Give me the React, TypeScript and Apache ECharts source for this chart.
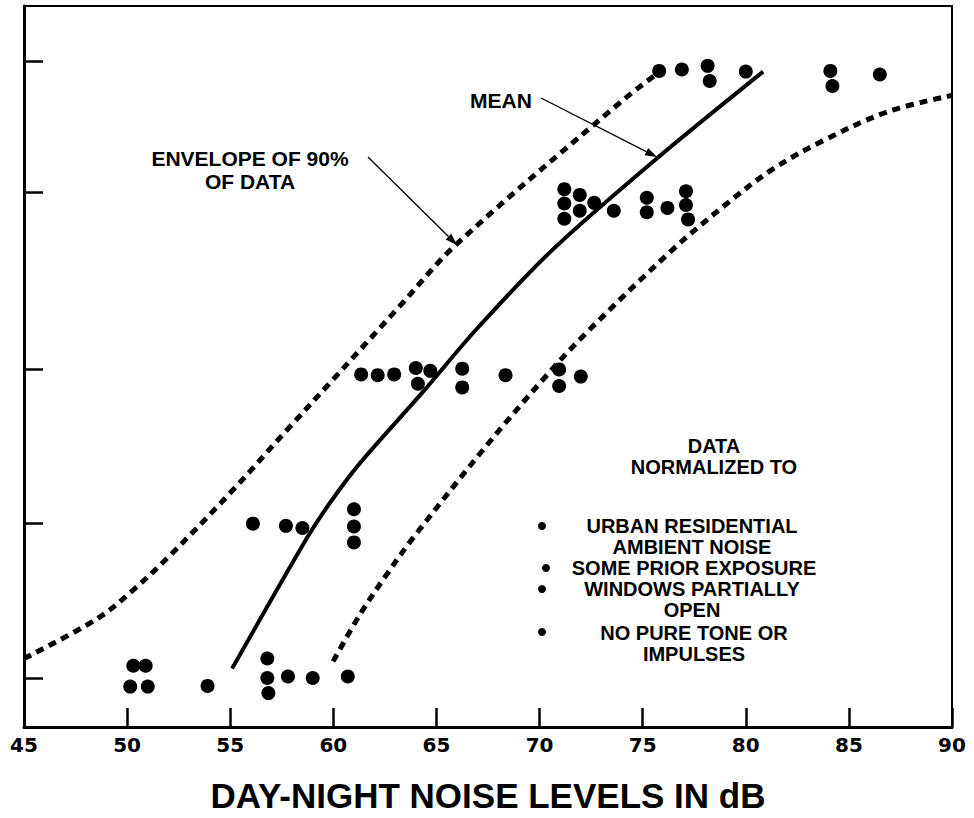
import React, { useEffect, useRef } from "react";
import * as echarts from "echarts";

// ---- Axis settings ----
const X_MIN = 45;
const X_MAX = 90;
const X_STEP = 5;
const Y_MIN = 0;
const Y_MAX = 100;
// positions of the (unlabelled) reaction-level ticks on the vertical scale
const yTickValues = [6.75, 28.2, 49.6, 74.1, 92.4];

// ---- Observed data points [dB, reaction score] ----
const level1Points = [
  [50.3, 8.5], [50.9, 8.5], [50.15, 5.6], [51.0, 5.6], [53.9, 5.7],
  [56.8, 9.5], [56.8, 6.8], [56.85, 4.7], [57.8, 7.0], [59.0, 6.8], [60.7, 7.0],
];
const level2Points = [
  [56.1, 28.2], [57.7, 27.9], [58.5, 27.6], [61.0, 30.2], [61.0, 27.8], [61.0, 25.6],
];
const level3Points = [
  [61.35, 48.9], [62.15, 48.8], [62.95, 48.9], [64.0, 49.8], [64.7, 49.4], [64.1, 47.6],
  [66.25, 49.7], [66.25, 47.1], [68.35, 48.8], [70.95, 49.6], [70.95, 47.3], [72.0, 48.6],
];
const level4Points = [
  [71.2, 74.6], [71.2, 72.6], [71.2, 70.5], [71.95, 73.8], [71.95, 71.6], [72.65, 72.7],
  [73.6, 71.6], [75.2, 73.4], [75.2, 71.4], [76.2, 72.0], [77.1, 74.3], [77.1, 72.4], [77.2, 70.4],
];
const level5Points = [
  [75.8, 91.0], [76.9, 91.2], [78.15, 91.7], [78.25, 89.6], [80.0, 90.9],
  [84.1, 91.0], [84.2, 88.9], [86.5, 90.5],
];

// ---- Curves ----
const meanCurve = [
  [55.09, 8.1], [58.72, 26.2], [59.84, 31.1], [61.29, 36.6], [64.29, 46.3],
  [66.95, 55.2], [70.65, 66.25], [75.6, 78.65], [80.84, 90.9],
];
const upperEnvelope = [
  [45.0, 9.5], [48.54, 15.0], [50.29, 19.0], [52.08, 23.8], [55.14, 32.9], [57.75, 41.2],
  [59.99, 48.2], [63.23, 58.4], [65.95, 66.9], [73.9, 86.6], [75.6, 90.4],
];
const lowerEnvelope = [
  [59.99, 9.1], [61.29, 15.6], [62.6, 21.2], [63.86, 26.2], [67.45, 39.1], [70.17, 48.2],
  [72.21, 54.5], [76.47, 66.25], [79.09, 72.6], [81.27, 77.3], [83.6, 81.1], [86.85, 85.3], [90, 87.6],
];

// ---- Texts ----
const titleText = "DAY-NIGHT NOISE LEVELS IN dB";
const meanLabel = "MEAN";
const envelopeLabel = ["ENVELOPE OF 90%", "OF DATA"];
const noteHeader = ["DATA", "NORMALIZED TO"];
const noteItems = [
  ["URBAN RESIDENTIAL", "AMBIENT NOISE"],
  ["SOME PRIOR EXPOSURE"],
  ["WINDOWS PARTIALLY", "OPEN"],
  ["NO PURE TONE OR", "IMPULSES"],
];

const FONT_FAMILY = '"Liberation Sans", Arial, sans-serif';

function txt(text: string, x: number, y: number, size = 20, lineHeight = 21) {
  return {
    type: "text",
    x,
    y,
    z: 10,
    style: {
      text,
      fontFamily: FONT_FAMILY,
      fontWeight: "bold",
      fontSize: size,
      lineHeight,
      fill: "#000",
      textAlign: "center",
      textVerticalAlign: "middle",
    },
  };
}

function arrow(x1: number, y1: number, x2: number, y2: number, headLen = 12, headHalf = 4) {
  const dx = x2 - x1;
  const dy = y2 - y1;
  const len = Math.sqrt(dx * dx + dy * dy);
  const ux = dx / len;
  const uy = dy / len;
  const bx = x2 - ux * headLen;
  const by = y2 - uy * headLen;
  const px = -uy * headHalf;
  const py = ux * headHalf;
  return [
    {
      type: "line",
      z: 10,
      shape: { x1, y1, x2: bx, y2: by },
      style: { stroke: "#000", lineWidth: 1.3 },
    },
    {
      type: "polygon",
      z: 10,
      shape: { points: [[x2, y2], [bx + px, by + py], [bx - px, by - py]] },
      style: { fill: "#000" },
    },
  ];
}

export default function App() {
  const ref = useRef<HTMLDivElement>(null);

  useEffect(() => {
    if (!ref.current) return;
    const chart = echarts.init(ref.current, undefined, { renderer: "svg" });

    // centre positions of the note blocks
    const noteCenters = [
      [692, 536.5],
      [694, 568],
      [692, 599.5],
      [694, 643],
    ];
    const bullets = [
      { cx: 542, cy: 526 },
      { cx: 546, cy: 568 },
      { cx: 542, cy: 589 },
      { cx: 542, cy: 632 },
    ];

    const graphic: any[] = [
      txt(meanLabel, 501, 100, 21),
      txt(envelopeLabel.join("\n"), 250, 170, 21, 23),
      txt(noteHeader.join("\n"), 714, 456.5),
      ...noteItems.map((lines, i) => txt(lines.join("\n"), noteCenters[i][0], noteCenters[i][1])),
      ...bullets.map((b) => ({
        type: "circle",
        z: 10,
        shape: { cx: b.cx, cy: b.cy, r: 4 },
        style: { fill: "#000" },
      })),
      ...arrow(541, 98, 657, 157),
      ...arrow(368, 157, 457, 245),
    ];

    const dotSeries = (data: number[][]) => ({
      type: "scatter",
      data,
      symbol: "circle",
      symbolSize: 14,
      itemStyle: { color: "#000", opacity: 1 },
      z: 5,
    });

    const envStyle = { color: "#000", width: 5, type: [8, 6], cap: "butt" };

    chart.setOption({
      animation: false,
      backgroundColor: "#fff",
      grid: {
        left: 24,
        right: 22,
        top: 6,
        bottom: 87,
        show: true,
        borderColor: "#000",
        borderWidth: 2,
        backgroundColor: "transparent",
      },
      xAxis: {
        type: "value",
        min: X_MIN,
        max: X_MAX,
        interval: X_STEP,
        name: titleText,
        nameLocation: "middle",
        nameGap: 51,
        nameTextStyle: {
          fontFamily: FONT_FAMILY,
          fontWeight: "bold",
          fontSize: 35,
          color: "#000",
        },
        axisLine: { show: true, lineStyle: { color: "#000", width: 3 } },
        axisTick: { show: true, inside: true, length: 19, lineStyle: { color: "#000", width: 2.5 } },
        axisLabel: {
          show: true,
          margin: 8,
          color: "#000",
          fontFamily: '"DejaVu Sans", sans-serif',
          fontWeight: "bold",
          fontSize: 20,
        },
        splitLine: { show: false },
      },
      yAxis: {
        type: "value",
        min: Y_MIN,
        max: Y_MAX,
        axisLine: { show: true, lineStyle: { color: "#000", width: 3 } },
        axisTick: {
          show: true,
          inside: true,
          length: 19,
          customValues: yTickValues,
          lineStyle: { color: "#000", width: 2.5 },
        },
        axisLabel: { show: false },
        splitLine: { show: false },
      },
      series: [
        {
          type: "line",
          data: upperEnvelope,
          smooth: 0.35,
          showSymbol: false,
          symbol: "none",
          lineStyle: envStyle,
          z: 3,
        },
        {
          type: "line",
          data: lowerEnvelope,
          smooth: 0.35,
          showSymbol: false,
          symbol: "none",
          lineStyle: envStyle,
          z: 3,
        },
        {
          type: "line",
          data: meanCurve,
          smooth: 0.3,
          showSymbol: false,
          symbol: "none",
          lineStyle: { color: "#000", width: 4, cap: "butt" },
          z: 4,
        },
        dotSeries(level1Points),
        dotSeries(level2Points),
        dotSeries(level3Points),
        dotSeries(level4Points),
        dotSeries(level5Points),
      ],
      graphic,
    });

    return () => chart.dispose();
  }, []);

  return (
    <div
      ref={ref}
      style={{ position: "fixed", left: 0, top: 0, width: 974, height: 818, background: "#fff" }}
    />
  );
}
